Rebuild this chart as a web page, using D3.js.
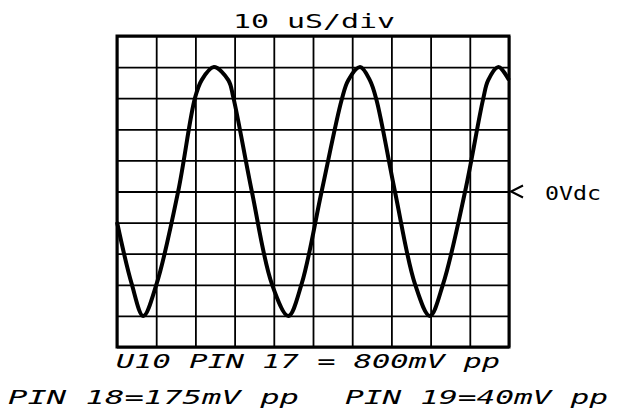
<!DOCTYPE html>
<html>
<head>
<meta charset="utf-8">
<script src="https://cdn.jsdelivr.net/npm/d3@7"></script>
<style>
  html, body { margin: 0; padding: 0; background: #fff; }
  svg { display: block; }
  text { font-family: "DejaVu Sans Mono", "Liberation Mono", monospace; fill: #000; }
</style>
</head>
<body>
<svg id="scope" width="619" height="418"></svg>
<script>
// Scope trace: time in microseconds, amplitude in millivolts (100 mV/div)
const timeUs = [0, 3.75, 6.7, 10.1, 15.6, 19.9, 21.6, 24.7,
  28.4, 29.7, 34.4, 39.5, 43.7, 47.1, 52.2, 57.3, 59.0, 62.0,
  64.5, 66.2, 70.9, 76.0, 79.8, 83.2, 88.8, 93.4, 94.7, 97.3, 100];
const traceMv = [-98, -297, -400, -297, 0, 301, 358, 400,
  358, 301, 0, -297, -400, -297, 0, 294, 358, 400,
  358, 294, 0, -297, -400, -297, 0, 297, 358, 400, 358];

// Graticule: 10 divisions each way
const timeTicks = d3.range(0, 101, 10);
const voltTicks = d3.range(-500, 501, 100);

const titleText = "10 uS/div";
const refLabel = "0Vdc";
const refLevelMv = 0;
const noteLine1 = "U10 PIN 17 = 800mV pp";
const noteLeft = "PIN 18=175mV pp";
const noteRight = "PIN 19=40mV pp";

const svg = d3.select("#scope");
const gLeft = 117, gRight = 509, gTop = 36, gBottom = 347;

const x = d3.scaleLinear().domain([0, 100]).range([gLeft, gRight]);
const y = d3.scaleLinear().domain([-500, 500]).range([gBottom, gTop]);

// vertical grid lines
svg.append("g")
  .attr("transform", `translate(0,${gBottom})`)
  .call(d3.axisBottom(x).tickValues(timeTicks).tickSize(0).tickFormat(""))
  .call(g => g.select(".domain").remove())
  .call(g => g.selectAll(".tick line").attr("y2", -(gBottom - gTop)).attr("stroke", "#000").attr("stroke-width", 1.8));

// horizontal grid lines
svg.append("g")
  .attr("transform", `translate(${gLeft},0)`)
  .call(d3.axisLeft(y).tickValues(voltTicks).tickSize(0).tickFormat(""))
  .call(g => g.select(".domain").remove())
  .call(g => g.selectAll(".tick line").attr("x2", gRight - gLeft).attr("stroke", "#000").attr("stroke-width", 1.8));

// outer frame
svg.append("rect")
  .attr("x", gLeft).attr("y", gTop)
  .attr("width", gRight - gLeft).attr("height", gBottom - gTop)
  .attr("fill", "none").attr("stroke", "#000").attr("stroke-width", 3);

// waveform
const line = d3.line()
  .x((d, i) => x(timeUs[i]))
  .y(d => y(d))
  .curve(d3.curveCatmullRom.alpha(0.5));

svg.append("path")
  .datum(traceMv)
  .attr("d", line)
  .attr("fill", "none")
  .attr("stroke", "#000")
  .attr("stroke-width", 4)
  .attr("stroke-linejoin", "round");

// reference level marker
const ry = y(refLevelMv);
svg.append("path")
  .attr("d", `M${gRight + 14},${ry - 6}L${gRight + 2},${ry}L${gRight + 14},${ry + 6}`)
  .attr("fill", "none").attr("stroke", "#000").attr("stroke-width", 2);

svg.append("text")
  .attr("x", 545).attr("y", ry + 8)
  .attr("font-size", 20)
  .attr("textLength", 56).attr("lengthAdjust", "spacingAndGlyphs")
  .text(refLabel);

// title
svg.append("text")
  .attr("x", 233).attr("y", 28)
  .attr("font-size", 20)
  .attr("textLength", 162).attr("lengthAdjust", "spacingAndGlyphs")
  .text(titleText);

// notes below the graticule
svg.append("text")
  .attr("x", 116).attr("y", 368)
  .attr("font-size", 20).attr("font-style", "italic")
  .attr("textLength", 384).attr("lengthAdjust", "spacingAndGlyphs")
  .text(noteLine1);

svg.append("text")
  .attr("x", 8).attr("y", 404)
  .attr("font-size", 20).attr("font-style", "italic")
  .attr("textLength", 291).attr("lengthAdjust", "spacingAndGlyphs")
  .text(noteLeft);

svg.append("text")
  .attr("x", 345).attr("y", 404)
  .attr("font-size", 20).attr("font-style", "italic")
  .attr("textLength", 263).attr("lengthAdjust", "spacingAndGlyphs")
  .text(noteRight);
</script>
</body>
</html>
